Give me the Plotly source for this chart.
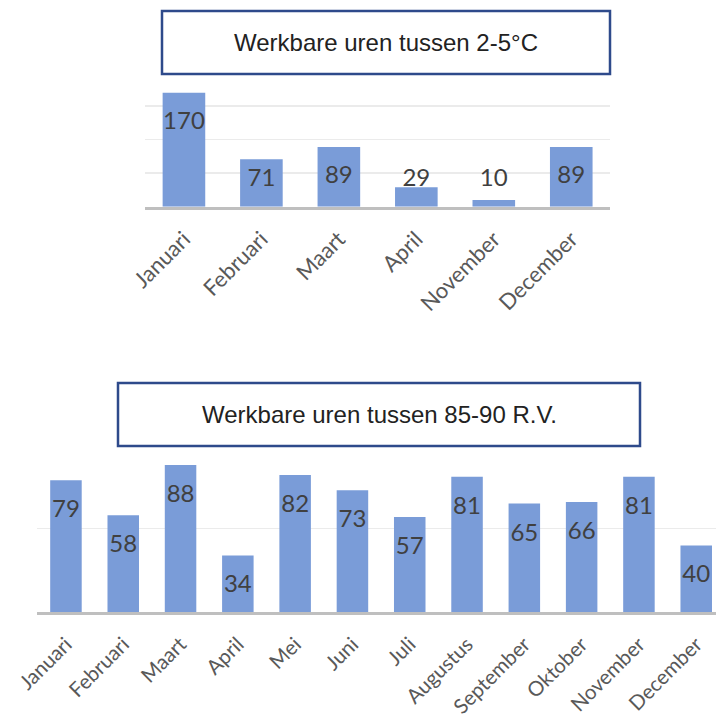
import plotly.graph_objects as go

# ---- data ----
months_temp = ["Januari", "Februari", "Maart", "April", "November", "December"]
hours_temp = [170, 71, 89, 29, 10, 89]

months_rv = ["Januari", "Februari", "Maart", "April", "Mei", "Juni", "Juli",
             "Augustus", "September", "Oktober", "November", "December"]
hours_rv = [79, 58, 88, 34, 82, 73, 57, 81, 65, 66, 81, 40]

title_temp = "Werkbare uren tussen 2-5°C"
title_rv = "Werkbare uren tussen 85-90 R.V."

# ---- style ----
W, H = 716, 720
BAR = "#7a9cd8"
LABEL = "#404040"
TICK = "#595959"
GRID = "#ebebeb"
BASE = "#bfbfbf"
BOX = "#2e4a8b"
LABEL_FONT = "Lato, Liberation Sans, Arial, sans-serif"
TITLE_FONT = "Liberation Sans, Arial, sans-serif"


def px_x(p):
    return p / W


def px_y(p):
    return 1 - p / H


fig = go.Figure()

# top chart
fig.add_trace(go.Bar(x=months_temp, y=hours_temp, marker_color=BAR,
                     marker_line_width=0, xaxis="x", yaxis="y",
                     hoverinfo="skip"))
top_label_y = [max(v - 44.8, 39.8) for v in hours_temp]
fig.add_trace(go.Scatter(x=months_temp, y=top_label_y, mode="text",
                         text=[str(v) for v in hours_temp],
                         textposition="middle center",
                         textfont=dict(family=LABEL_FONT, size=24, color=LABEL),
                         xaxis="x", yaxis="y", hoverinfo="skip",
                         cliponaxis=False))

# bottom chart
fig.add_trace(go.Bar(x=months_rv, y=hours_rv, marker_color=BAR,
                     marker_line_width=0, xaxis="x2", yaxis="y2",
                     hoverinfo="skip"))
bot_label_y = [v - 18.5 for v in hours_rv]
fig.add_trace(go.Scatter(x=months_rv, y=bot_label_y, mode="text",
                         text=[str(v) for v in hours_rv],
                         textposition="middle center",
                         textfont=dict(family=LABEL_FONT, size=24, color=LABEL),
                         xaxis="x2", yaxis="y2", hoverinfo="skip",
                         cliponaxis=False))

axis_common = dict(showgrid=False, zeroline=False, showline=True,
                   linecolor=BASE, linewidth=3, ticks="", tickangle=-45,
                   fixedrange=True, automargin=False)
yaxis_common = dict(showgrid=True, gridcolor=GRID, gridwidth=1.5,
                    zeroline=False, showticklabels=False, showline=False,
                    dtick=50, tick0=0, fixedrange=True, automargin=False)

fig.update_layout(
    template="none",
    width=W, height=H,
    margin=dict(l=0, r=0, t=0, b=0, pad=0),
    paper_bgcolor="white", plot_bgcolor="white",
    showlegend=False,
    bargap=0.45,
    xaxis=dict(axis_common, domain=[px_x(145.2), px_x(610)],
               anchor="y", range=[-0.5, 5.5],
               tickfont=dict(family=LABEL_FONT, size=22, color=TICK),
               ticklabelstandoff=8),
    yaxis=dict(yaxis_common, domain=[px_y(206.7), px_y(72.7)],
               anchor="x", range=[0, 200]),
    xaxis2=dict(axis_common, domain=[px_x(37.3), 1.0],
                anchor="y2", range=[-0.5, 11.345],
                tickfont=dict(family=LABEL_FONT, size=20.5, color=TICK),
                ticklabelstandoff=9),
    yaxis2=dict(yaxis_common, domain=[px_y(612.3), px_y(445)],
                anchor="x2", range=[0, 100]),
)

# title boxes
for (x0, x1, y0, y1, txt) in [(162, 610, 11, 74, title_temp),
                              (118, 640, 383, 446, title_rv)]:
    fig.add_shape(type="rect", xref="paper", yref="paper",
                  x0=px_x(x0), x1=px_x(x1), y0=px_y(y1), y1=px_y(y0),
                  line=dict(color=BOX, width=2.5), fillcolor="white",
                  layer="above")
    fig.add_annotation(xref="paper", yref="paper",
                       x=px_x((x0 + x1) / 2), y=px_y((y0 + y1) / 2),
                       text=txt, showarrow=False,
                       font=dict(family=TITLE_FONT, size=24, color="#222222"),
                       xanchor="center", yanchor="middle")

fig.write_html(
    "out.html",
    config={"displayModeBar": False, "staticPlot": True},
    post_script="document.body.style.margin='0';"
                "document.body.style.overflow='hidden';",
)
